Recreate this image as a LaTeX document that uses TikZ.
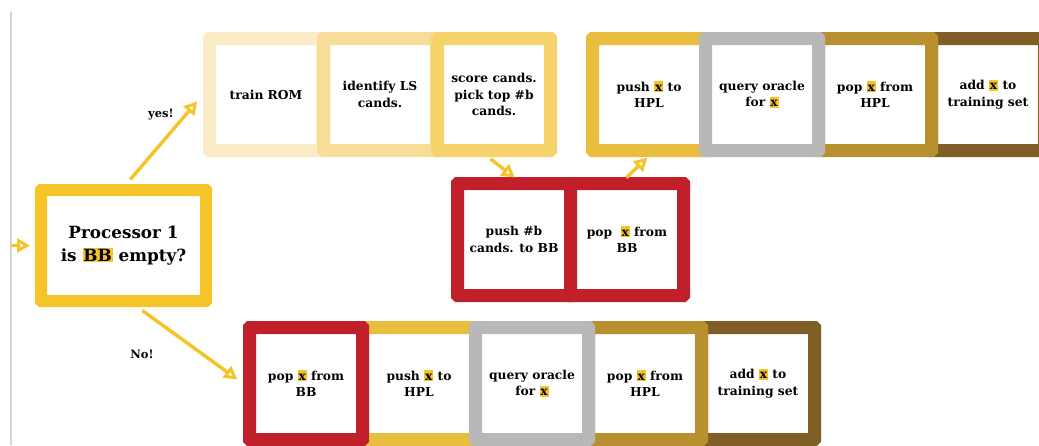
\documentclass[tikz,border=0pt]{standalone}
\usepackage{fontspec}
\setmainfont{DejaVu Serif}
\usetikzlibrary{calc,arrows.meta}
\definecolor{procyellow}{HTML}{F5C428}
\definecolor{romcol}{HTML}{FBEBC6}
\definecolor{lscol}{HTML}{F8DD98}
\definecolor{scorecol}{HTML}{F5D26A}
\definecolor{hplcol}{HTML}{E9BE3F}
\definecolor{oraclecol}{HTML}{B8B8B8}
\definecolor{pophplcol}{HTML}{B8902F}
\definecolor{addcol}{HTML}{7F5F26}
\definecolor{bbred}{HTML}{C1202A}
\definecolor{linegray}{HTML}{D4D4D4}

\newcommand{\hlbox}[1]{{\setlength{\fboxsep}{0.9pt}\colorbox{procyellow}{\vphantom{B}#1}}}

\tikzset{
  stepbox/.style={draw, fill=white, line width=13pt, rounded corners=0.3pt,
    minimum width=113pt, minimum height=112pt, inner sep=0pt, align=center,
    font=\bfseries\fontsize{12.3}{16.5}\selectfont},
  flow/.style={procyellow, line width=3.5pt,
    -{Triangle[open, length=13pt, width=14pt, line width=3pt]}},
  lbl/.style={font=\bfseries\fontsize{11.5}{13}\selectfont}
}

\begin{document}
\begin{tikzpicture}[x=1pt, y=-1pt]
  \useasboundingbox (0,0) rectangle (1039,445);

  % ---------- left rail and entry ----------
  \draw[linegray, line width=1.6pt] (11,12) -- (11,445);
  \coordinate (entry) at (11,245.5);

  % processor test
  \node[draw=procyellow, fill=white, line width=12pt, rounded corners=0.3pt,
        minimum width=165pt, minimum height=111pt, align=center,
        font=\bfseries\fontsize{16.8}{23}\selectfont] (proc) at (123.5,245.5)
    {Processor 1\\ is \hlbox{BB} empty?};

  % ---------- top row: yes branch ----------
  \node[stepbox, draw=romcol]    (rom)     at (266,94.5) {train ROM};
  \node[stepbox, draw=lscol]     (lscands) at (380,94.5) {identify LS\\ cands.};
  \node[stepbox, draw=scorecol]  (score)   at (494,94.5) {score cands.\\ pick top \#b\\ cands.};

  \node[stepbox, draw=hplcol]    (pushhpl) at (649,94.5) {push \hlbox{x} to\\ HPL};
  \node[stepbox, draw=addcol]    (addset)  at (988,94.5) {add \hlbox{x} to\\ training set};
  \node[stepbox, draw=pophplcol] (pophpl)  at (875,94.5) {pop \hlbox{x} from\\ HPL};
  \node[stepbox, draw=oraclecol] (oracle)  at (762,94.5) {query oracle\\ for \hlbox{x}};

  % ---------- middle row: the BB ----------
  \node[stepbox, draw=bbred] (pushb) at (514,239.5) {push \#b\\ cands. to BB};
  \node[stepbox, draw=bbred] (popbb) at (627,239.5) {pop\ \ \hlbox{x} from\\ BB};

  % ---------- bottom row: no branch ----------
  \node[stepbox, draw=addcol]    (baddset)  at (758,383.5) {add \hlbox{x} to\\ training set};
  \node[stepbox, draw=pophplcol] (bpophpl)  at (645,383.5) {pop \hlbox{x} from\\ HPL};
  \node[stepbox, draw=hplcol]    (bpushhpl) at (419,383.5) {push \hlbox{x} to\\ HPL};
  \node[stepbox, draw=bbred]     (bpopbb)   at (306,383.5) {pop \hlbox{x} from\\ BB};
  \node[stepbox, draw=oraclecol] (boracle)  at (532,383.5) {query oracle\\ for \hlbox{x}};

  % ---------- connectors ----------
  \draw[flow, shorten >=5pt] (entry) -- (proc.west);
  \draw[flow, shorten <=6pt, shorten >=9pt] ($(proc.north)+(3,0)$) -- (rom.west);
  \draw[flow, shorten <=6pt, shorten >=7pt] ($(proc.south)+(14,0)$) -- (bpopbb.west);
  \draw[flow, shorten <=3pt, shorten >=-1pt] ($(score.south)+(-6,0)$) -- (pushb.north);
  \draw[flow, shorten <=-1pt, shorten >=1pt] (popbb.north) -- ($(pushhpl.south)+(-1,0)$);

  \node[lbl] (yes) at (161,115) {yes!};
  \node[lbl] (no)  at (142,354) {No!};
\end{tikzpicture}
\end{document}
